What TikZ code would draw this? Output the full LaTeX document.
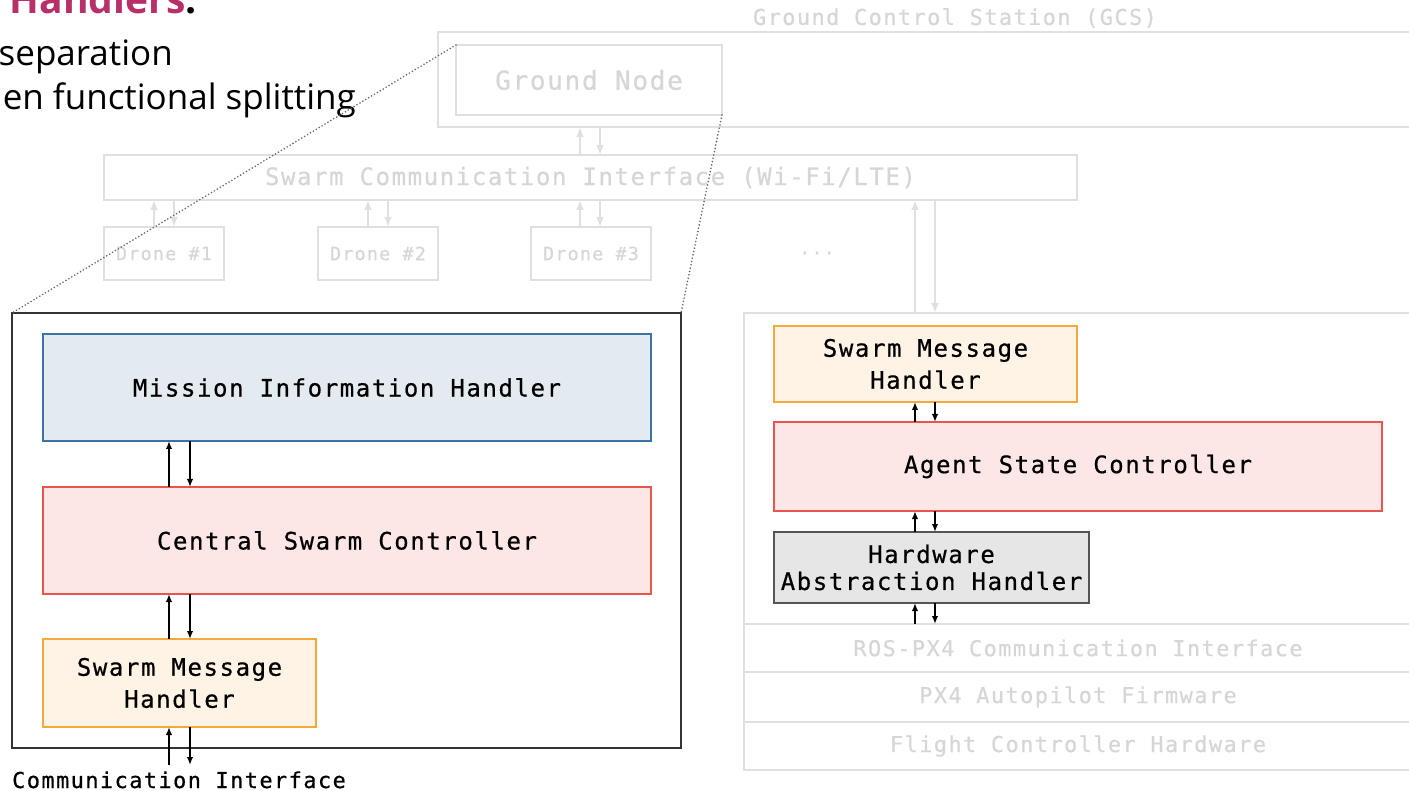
\documentclass[tikz,border=0pt]{standalone}
\usepackage{fontspec}
\setmainfont{Open Sans}
\newfontfamily\mono{DejaVu Sans Mono}[LetterSpace=6.6, FakeBold=0.6]
\usetikzlibrary{arrows.meta}

\definecolor{faint}{HTML}{E0E0E0}
\definecolor{fainttext}{HTML}{D6D6D6}
\definecolor{headpink}{HTML}{B8306A}
\definecolor{missionline}{HTML}{3A74A4}
\definecolor{missionfill}{HTML}{E3EAF0}
\definecolor{ctrlline}{HTML}{E8564B}
\definecolor{ctrlfill}{HTML}{FCE6E6}
\definecolor{msgline}{HTML}{F5A93B}
\definecolor{msgfill}{HTML}{FEF3E5}
\definecolor{hwline}{HTML}{555555}
\definecolor{hwfill}{HTML}{E6E6E6}
\definecolor{frame}{HTML}{333333}

\tikzset{
  box/.style={draw, line width=2pt, inner sep=0pt, outer sep=0pt,
    anchor=north west, align=center},
  ghost/.style={box, draw=faint, text=fainttext},
  mission/.style={box, draw=missionline, fill=missionfill},
  ctrl/.style={box, draw=ctrlline, fill=ctrlfill},
  msg/.style={box, draw=msgline, fill=msgfill},
  hw/.style={box, draw=hwline, fill=hwfill},
  fs/.style={font=\mono\fontsize{#1}{32}\selectfont},
  darr/.style={-{Latex[length=8pt,width=6.5pt]}, line width=1.9pt, black},
  garr/.style={-{Latex[length=10pt,width=8pt]}, line width=2pt, draw=faint},
  dotline/.style={draw=black!60, line width=1.8pt, dash pattern=on 0pt off 3.4pt, line cap=round},
}

\begin{document}
\begin{tikzpicture}[x=1pt, y=-1pt]
\useasboundingbox (0,0) rectangle (1409,791);
\clip (0,0) rectangle (1409,791);

% heading and bullet text
\node[anchor=base east, inner sep=0pt, font=\bfseries\fontsize{39}{44}\selectfont] (head) at (197,14)
  {\textcolor{headpink}{Handlers}.};
\node[anchor=base east, inner sep=0pt, font=\fontsize{35}{44}\selectfont] (line1) at (173,66) {separation};
\node[anchor=base east, inner sep=0pt, font=\fontsize{35}{44}\selectfont] (line2) at (356,110) {en functional splitting};

% ground station
\node[fs=21.9, text=fainttext] (gcslabel) at (955,18) {Ground Control Station (GCS)};
\node[ghost, minimum width=1035pt, minimum height=95pt] (gcs) at (438,32) {};
\node[ghost, fs=26, minimum width=266pt, minimum height=70pt] (gnode) at (456,45) {Ground Node};

% swarm network
\node[ghost, fs=24, minimum width=973pt, minimum height=45pt] (sci) at (104,155)
  {Swarm Communication Interface (Wi-Fi/LTE)};
\node[ghost, fs=18.4, minimum width=120pt, minimum height=53pt] (d1) at (104,227) {Drone \#1};
\node[ghost, fs=18.4, minimum width=120pt, minimum height=53pt] (d2) at (318,227) {Drone \#2};
\node[ghost, fs=18.4, minimum width=120pt, minimum height=53pt] (d3) at (531,227) {Drone \#3};
\node[fs=18.4, text=fainttext] (more) at (817,253) {...};

\draw[garr] (580,0 |- sci.north) -- (580,0 |- gcs.south);
\draw[garr] (600,0 |- gcs.south) -- (600,0 |- sci.north);
\draw[garr] (154,0 |- d1.north) -- (154,0 |- sci.south);
\draw[garr] (174,0 |- sci.south) -- (174,0 |- d1.north);
\draw[garr] (368,0 |- d2.north) -- (368,0 |- sci.south);
\draw[garr] (388,0 |- sci.south) -- (388,0 |- d2.north);
\draw[garr] (580,0 |- d3.north) -- (580,0 |- sci.south);
\draw[garr] (600,0 |- sci.south) -- (600,0 |- d3.north);

% single drone stack
\node[ghost, minimum width=668pt, minimum height=457pt] (drone) at (744,313) {};
\node[ghost, fs=21.9, minimum width=668pt, minimum height=48pt] (ros) at (744,624) {ROS-PX4 Communication Interface};
\node[ghost, fs=21.9, minimum width=668pt, minimum height=50pt] (px4) at (744,672) {PX4 Autopilot Firmware};
\node[ghost, fs=21.9, minimum width=668pt, minimum height=48pt] (fch) at (744,722) {Flight Controller Hardware};

\draw[garr] (915,0 |- drone.north) -- (915,0 |- sci.south);
\draw[garr] (935,0 |- sci.south) -- (935,0 |- drone.north);

\node[msg, fs=24, minimum width=303pt, minimum height=76pt] (rsmh) at (774,326) {Swarm Message\\Handler};
\node[ctrl, fs=24, minimum width=608pt, minimum height=89pt] (asc) at (774,422) {Agent State Controller};
\node[hw, font=\mono\fontsize{24}{27}\selectfont, minimum width=315pt, minimum height=71pt] (hah) at (774,532)
  {Hardware\\Abstraction Handler};

\draw[darr] (915,0 |- asc.north) -- (915,0 |- rsmh.south);
\draw[darr] (935,0 |- rsmh.south) -- (935,0 |- asc.north);
\draw[darr] (915,0 |- hah.north) -- (915,0 |- asc.south);
\draw[darr] (935,0 |- asc.south) -- (935,0 |- hah.north);
\draw[darr] (915,0 |- ros.north) -- (915,0 |- hah.south);
\draw[darr] (935,0 |- hah.south) -- (935,0 |- ros.north);

% enlarged ground node
\node[box, draw=frame, fill=white, minimum width=669pt, minimum height=435pt] (zoom) at (12,313) {};
\draw[dotline] (gnode.north west) -- (zoom.north west);
\draw[dotline] (gnode.south east) -- (zoom.north east);

\node[mission, fs=24, minimum width=608pt, minimum height=107pt] (mih) at (43,334) {Mission Information Handler};
\node[ctrl, fs=24, minimum width=608pt, minimum height=107pt] (csc) at (43,487) {Central Swarm Controller};
\node[msg, fs=24, minimum width=273pt, minimum height=88pt] (smh) at (43,639) {Swarm Message\\Handler};
\node[anchor=base west, inner sep=0pt, fs=21.9] (comm) at (12,788) {Communication Interface};
\coordinate (commtop) at (0,765);

\draw[darr] (169,0 |- csc.north) -- (169,0 |- mih.south);
\draw[darr] (190,0 |- mih.south) -- (190,0 |- csc.north);
\draw[darr] (169,0 |- smh.north) -- (169,0 |- csc.south);
\draw[darr] (190,0 |- csc.south) -- (190,0 |- smh.north);
\draw[darr] (169,0 |- commtop) -- (169,0 |- smh.south);
\draw[darr] (190,0 |- smh.south) -- (190,0 |- commtop);
\end{tikzpicture}
\end{document}
